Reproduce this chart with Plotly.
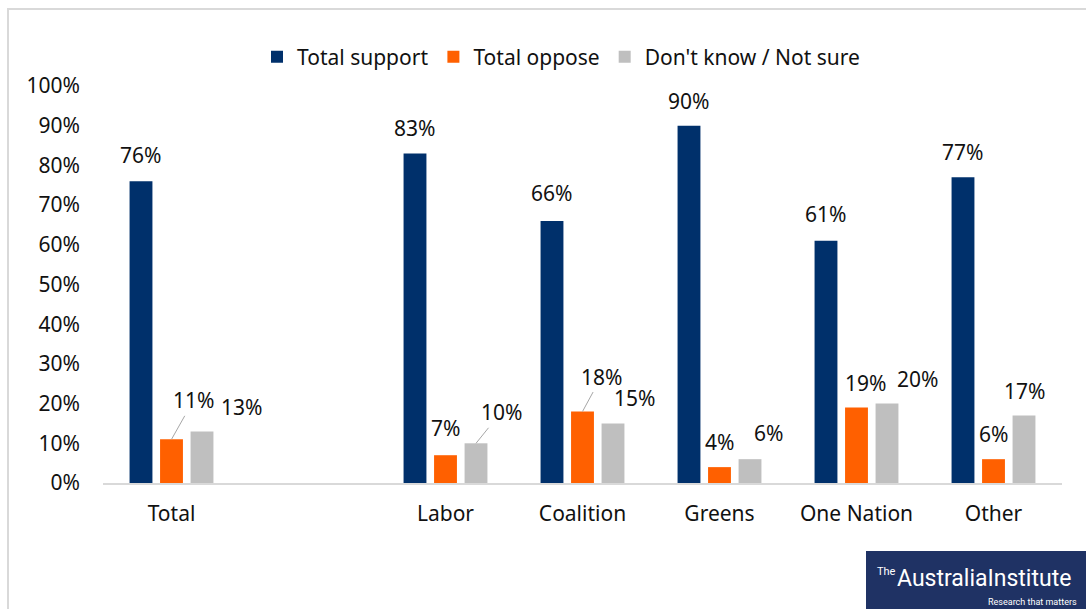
import plotly.graph_objects as go

categories = ["Total", " ", "Labor", "Coalition", "Greens", "One Nation", "Other"]
support = [76, None, 83, 66, 90, 61, 77]
oppose = [11, None, 7, 18, 4, 19, 6]
dont_know = [13, None, 10, 15, 6, 20, 17]
series_names = ["Total support", "Total oppose", "Don't know / Not sure"]
y_ticks = [0, 10, 20, 30, 40, 50, 60, 70, 80, 90, 100]
y_tick_text = [f"{v}%" for v in y_ticks]

colors = ["#00306B", "#FF6000", "#BFBFBF"]
FONT = "Noto Sans, Lato, sans-serif"
FS = 21
W, H = 1086, 609
L, R, T, B = 103, 24, 86, 126
plot_w = W - L - R
plot_h = H - T - B
BARGAP = 0.332
cat_px = plot_w / len(categories)
slot_px = cat_px * (1 - BARGAP) / 3

# label offsets (dx px, dy px above bar top, leader line?) per series per category
label_style = [
    [(0, 26, False), None, (0, 25, False), (0, 28, False), (0, 25, False), (0, 27, False), (0, 25, False)],
    [(18, 39, True), None, (0, 27, False), (15, 35, True), (0, 25, False), (9, 25, False), (0, 25, False)],
    [(39, 24, False), None, (21, 31, True), (21, 25, False), (18, 26, False), (30, 25, False), (0, 25, False)],
]

fig = go.Figure()
all_series = [support, oppose, dont_know]
for name, vals, col in zip(series_names, all_series, colors):
    fig.add_trace(go.Bar(x=categories, y=vals, name=name, marker=dict(color=col, line=dict(width=0)),
                         hoverinfo="skip"))

annotations = []
for si, vals in enumerate(all_series):
    for ci, v in enumerate(vals):
        if v is None:
            continue
        dx, dy, leader = label_style[si][ci]
        off = (si - 1) * slot_px
        if leader:
            annotations.append(dict(x=categories[ci], y=v, xref="x", yref="y", text=f"{v}%",
                                    showarrow=True, arrowhead=0, arrowwidth=1, arrowcolor="#A6A6A6",
                                    ax=dx + 4, ay=-dy, xshift=off, standoff=0,
                                    font=dict(family=FONT, size=FS, color="#111111")))
        else:
            annotations.append(dict(x=categories[ci], y=v, xref="x", yref="y", text=f"{v}%",
                                    showarrow=False, xshift=off + dx, yshift=dy, yanchor="middle",
                                    font=dict(family=FONT, size=FS, color="#111111")))


def px_x(px):
    return (px - L) / plot_w


def px_y(py):
    return (H - B - py) / plot_h


LOGO_FONT = "Liberation Sans Narrow, Roboto, sans-serif"
# logo
annotations += [
    dict(x=px_x(875), y=px_y(571), xref="paper", yref="paper", text="The", showarrow=False,
         xanchor="left", yanchor="middle", font=dict(family=LOGO_FONT, size=11, color="white")),
    dict(x=px_x(895), y=px_y(578), xref="paper", yref="paper", text="AustraliaInstitute", showarrow=False,
         xanchor="left", yanchor="middle", font=dict(family=LOGO_FONT, size=23, color="white")),
    dict(x=px_x(986), y=px_y(602), xref="paper", yref="paper", text="Research that matters", showarrow=False,
         xanchor="left", yanchor="middle", font=dict(family=LOGO_FONT, size=9, color="white")),
]

shapes = [
    dict(type="rect", xref="paper", yref="paper", x0=px_x(8), x1=px_x(1100), y0=px_y(620), y1=px_y(9),
         line=dict(color="#D9D9D9", width=2), fillcolor="rgba(0,0,0,0)", layer="below"),
    dict(type="rect", xref="paper", yref="paper", x0=px_x(866), x1=px_x(1100), y0=px_y(620), y1=px_y(551),
         line=dict(width=0), fillcolor="#1F3264", layer="below"),
]

fig.update_layout(
    width=W, height=H,
    margin=dict(l=L, r=R, t=T, b=B),
    paper_bgcolor="white", plot_bgcolor="white",
    barmode="group", bargap=BARGAP, bargroupgap=0.25,
    font=dict(family=FONT, size=FS, color="#111111"),
    legend=dict(orientation="h", x=px_x(561), xanchor="center", y=px_y(57), yanchor="middle",
                font=dict(family=FONT, size=FS, color="#111111"), traceorder="normal",
                itemwidth=30, bgcolor="rgba(0,0,0,0)"),
    annotations=annotations,
    shapes=shapes,
    showlegend=True,
)
fig.update_xaxes(type="category", categoryorder="array", categoryarray=categories,
                 showline=True, linecolor="#D9D9D9", linewidth=2, showgrid=False, ticks="",
                 ticklabelstandoff=11, tickfont=dict(family=FONT, size=FS, color="#111111"),
                 fixedrange=True)
fig.update_yaxes(range=[0, 100], tickvals=y_ticks, ticktext=y_tick_text, showgrid=False,
                 zeroline=False, showline=False, ticks="", ticklabelstandoff=22,
                 tickfont=dict(family=FONT, size=FS, color="#111111"), fixedrange=True)

fig.write_html("out.html")
